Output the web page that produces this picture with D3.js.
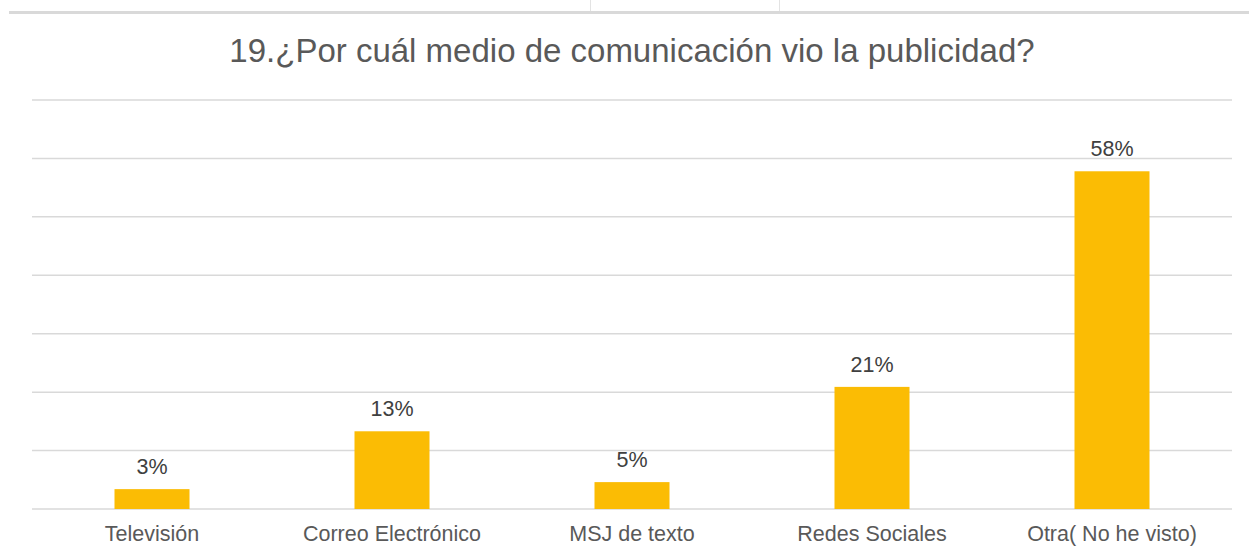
<!DOCTYPE html>
<html><head><meta charset="utf-8">
<script src="https://cdn.jsdelivr.net/npm/d3@7"></script>
<style>body{margin:0;background:#fff}svg{display:block}</style>
</head><body>
<script>
const categories = ["Televisión","Correo Electrónico","MSJ de texto","Redes Sociales","Otra( No he visto)"];
const values = [3.4, 13.3, 4.6, 20.9, 57.8];
const labels = ["3%","13%","5%","21%","58%"];
const yTicks = [0,10,20,30,40,50,60,70];
const title = "19.¿Por cuál medio de comunicación vio la publicidad?";

const W=1249,H=555;
const svg=d3.select("body").append("svg").attr("width",W).attr("height",H);
const font="'Liberation Sans', Arial, sans-serif";

// spreadsheet artifacts at top
svg.append("line").attr("x1",9).attr("x2",W).attr("y1",12.5).attr("y2",12.5).attr("stroke","#d9d9d9").attr("stroke-width",3);
[590,779].forEach(x=>svg.append("line").attr("x1",x+0.5).attr("x2",x+0.5).attr("y1",0).attr("y2",11).attr("stroke","#e3e3e3").attr("stroke-width",1));

const x=d3.scaleBand().domain(categories).range([32,1232]).padding(0);
const y=d3.scaleLinear().domain([0,70]).range([509,100]);

svg.append("g").selectAll("line").data(yTicks).join("line")
  .attr("x1",32).attr("x2",1232).attr("y1",d=>y(d)).attr("y2",d=>y(d))
  .attr("stroke","#d9d9d9").attr("stroke-width",1.5);

const bw=x.bandwidth()*0.3125;
svg.append("g").selectAll("rect").data(values).join("rect")
  .attr("x",(d,i)=>x(categories[i])+x.bandwidth()/2-bw/2)
  .attr("width",bw)
  .attr("y",d=>y(d)).attr("height",d=>y(0)-y(d))
  .attr("fill","#fbbc04");

svg.append("g").selectAll("text").data(values).join("text")
  .attr("x",(d,i)=>x(categories[i])+x.bandwidth()/2)
  .attr("y",d=>y(d)-15)
  .attr("text-anchor","middle").attr("font-family",font).attr("font-size",21.5).attr("fill","#404040")
  .text((d,i)=>labels[i]);

svg.append("g").selectAll("text").data(categories).join("text")
  .attr("x",d=>x(d)+x.bandwidth()/2).attr("y",541)
  .attr("text-anchor","middle").attr("font-family",font).attr("font-size",21.5).attr("fill","#595959")
  .text(d=>d);

svg.append("text").attr("x",632).attr("y",62).attr("text-anchor","middle")
  .attr("font-family",font).attr("font-size",33).attr("fill","#595959").text(title);
</script>
</body></html>
